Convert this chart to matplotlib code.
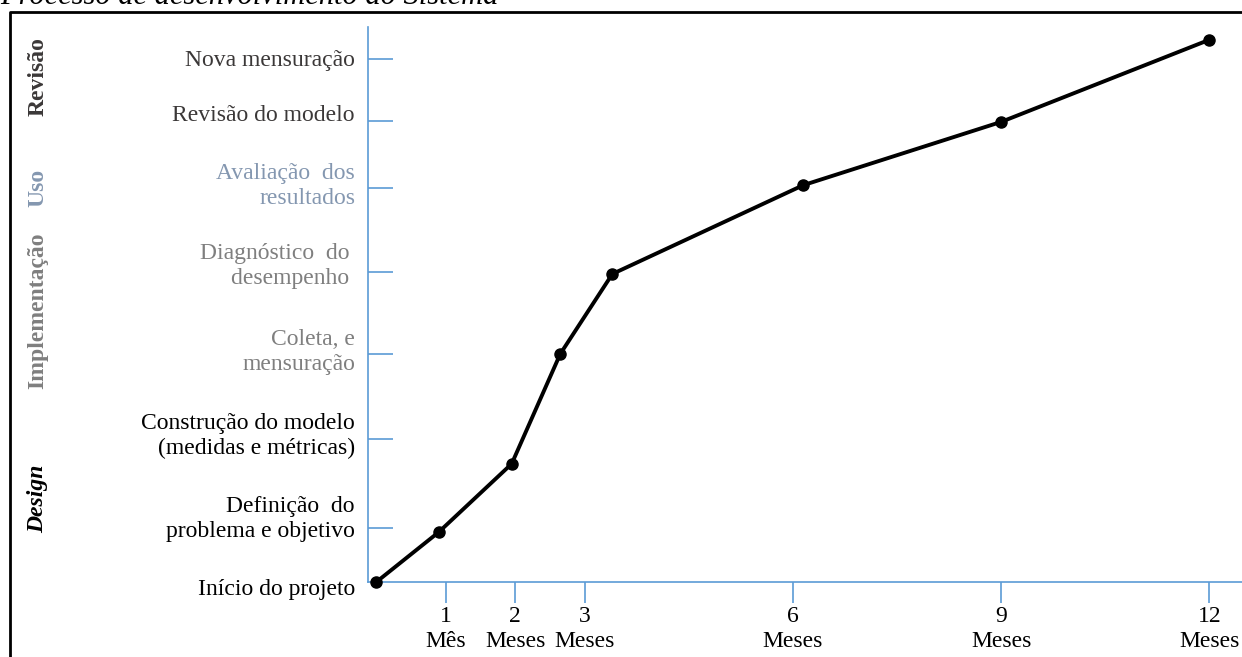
import matplotlib.pyplot as plt
from matplotlib.lines import Line2D
from matplotlib.transforms import blended_transform_factory

plt.rcParams['font.family'] = ['Liberation Serif', 'DejaVu Serif']

# path of the project: months (x) vs progress stage (y, 0-100 scale)
months = [0, 0.9, 1.95, 2.65, 3.4, 6.15, 9, 12]
progress = [0, 9.0, 21.3, 41.1, 55.5, 71.5, 82.9, 97.7]

# x ticks
x_ticks = [1, 2, 3, 6, 9, 12]
x_labels = ['1\nMês', '2\nMeses', '3\nMeses', '6\nMeses', '9\nMeses', '12\nMeses']

# y stages
stage_pos = [0, 9.7, 25.8, 41.1, 55.9, 71.0, 83.1, 94.2]
stage_labels = ['Início do projeto', 'Definição  do\nproblema e objetivo',
                'Construção do modelo\n(medidas e métricas)', 'Coleta, e\nmensuração',
                'Diagnóstico  do \ndesempenho ', 'Avaliação  dos\nresultados',
                'Revisão do modelo', 'Nova mensuração']
stage_colors = ['black', 'black', 'black', '#7f7f7f', '#7f7f7f', '#8497b0', '#3b3838', '#3b3838']

# phase labels on the left
phases = ['Design', 'Implementação', 'Uso', 'Revisão']
phase_pos = [15.0, 48.9, 71.0, 91.0]
phase_colors = ['black', '#7f7f7f', '#8497b0', '#3b3838']
phase_styles = ['italic', 'normal', 'normal', 'normal']

axis_blue = '#5b9bd5'

fig = plt.figure(figsize=(12.42, 6.57), dpi=100)
ax = fig.add_axes([368 / 1242, 1 - 582 / 657, 1 - 368 / 1242, (582 - 27) / 657])

ax.plot(months, progress, color='black', lw=2.8, marker='o', ms=8, zorder=5,
        clip_on=False)

ax.set_xlim(-0.12, 12.47)
ax.set_ylim(0, 100)

for s in ['top', 'right']:
    ax.spines[s].set_visible(False)
for s in ['left', 'bottom']:
    ax.spines[s].set_color(axis_blue)
    ax.spines[s].set_linewidth(1.2)

ax.set_xticks(x_ticks)
ax.set_xticklabels(x_labels, fontsize=17, linespacing=1.25)
ax.tick_params(axis='x', direction='out', length=15, width=1.2, color=axis_blue, pad=2)

ax.set_yticks(stage_pos[1:])
ax.set_yticklabels([])
ax.tick_params(axis='y', direction='in', length=18, width=1.2, color=axis_blue)

# stage labels to the left of the axis
tr = blended_transform_factory(fig.transFigure, ax.transData)
label_y = [-1.3, 11.3, 26.3, 41.5, 56.9, 71.3, 84.0, 94.0]
for lab, y, c in zip(stage_labels, label_y, stage_colors):
    ax.text(355 / 1242, y, lab, transform=tr, ha='right', va='center', fontsize=17,
            color=c, linespacing=1.25)

for lab, y, c, st in zip(phases, phase_pos, phase_colors, phase_styles):
    ax.text(38 / 1242, y, lab, transform=tr, ha='center', va='center', fontsize=17,
            color=c, fontweight='bold', style=st, rotation=90)

# figure border and cut-off caption
fig.add_artist(Line2D([10 / 1242, 10 / 1242, 1], [0, 1 - 12 / 657, 1 - 12 / 657],
                      transform=fig.transFigure, color='black', lw=2))
fig.text(0, 1 - 4 / 657, 'Processo de desenvolvimento do Sistema', ha='left', va='baseline',
         fontsize=22, style='italic', color='black')

fig.savefig('out.png', dpi=100)
